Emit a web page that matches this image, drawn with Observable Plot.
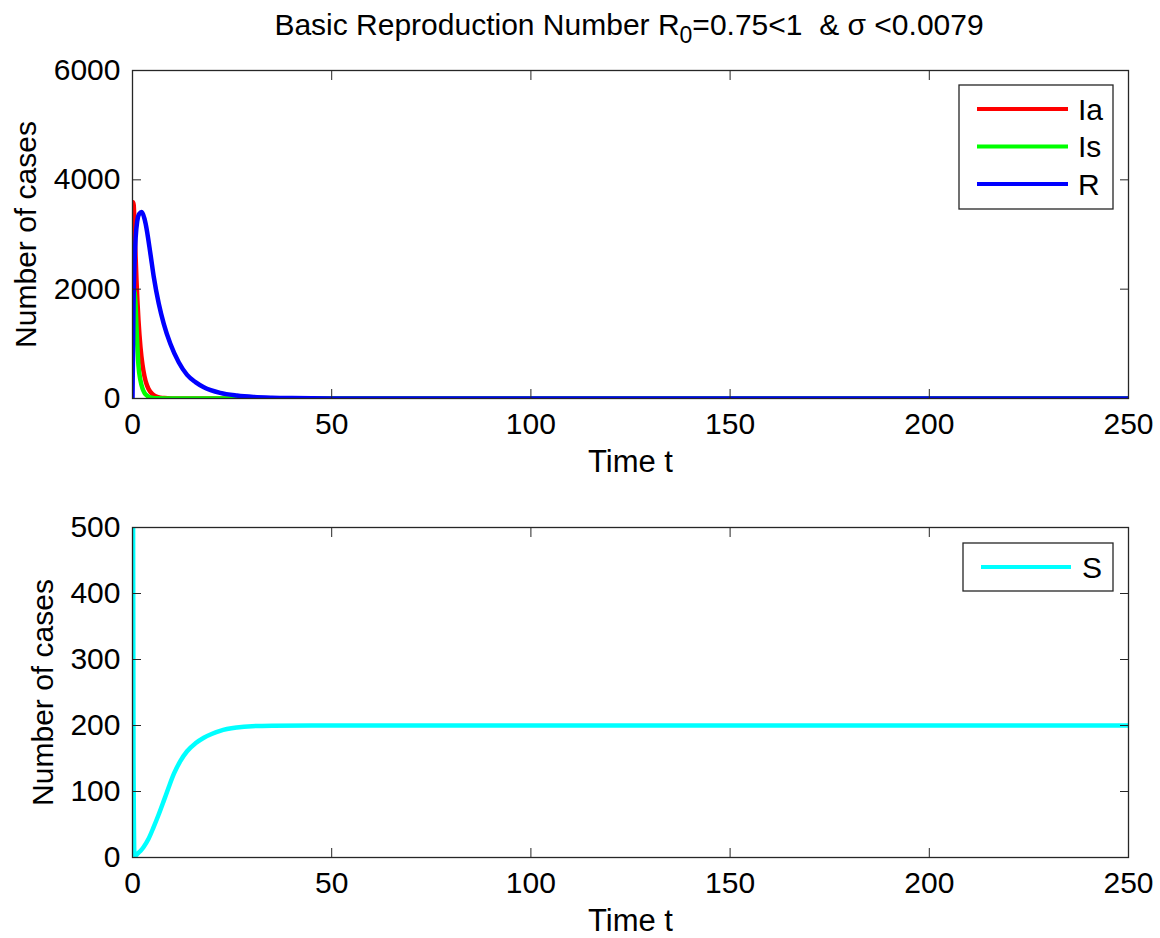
<!DOCTYPE html>
<html><head><meta charset="utf-8">
<script src="https://cdn.jsdelivr.net/npm/d3@7"></script>
<script src="https://cdn.jsdelivr.net/npm/@observablehq/plot@0.6"></script>
<style>
body{margin:0;background:#fff;font-family:"Liberation Sans",Arial,sans-serif;}
#title{height:50px;line-height:50px;width:1160px;box-sizing:border-box;padding-left:98px;text-align:center;font-size:30px;color:#000;white-space:pre;}
#title sub{font-size:23px;vertical-align:-8px;line-height:0;}
#c1,#c2{width:1160px;}
svg{display:block;}
</style></head><body>
<div id="title">Basic Reproduction Number R<sub>0</sub>=0.75&lt;1  &amp; σ &lt;0.0079</div>
<div id="c1"></div><div id="c2"></div>
<script>
// ---- data ----
const xTicks = [0, 50, 100, 150, 200, 250];
const yTicksTop = [0, 2000, 4000, 6000];
const yTicksBottom = [0, 100, 200, 300, 400, 500];

const topSeries = ["Ia", "Is", "R"];
const topColors = ["#ff0000", "#00ff00", "#0000ff"];
const bottomSeries = ["S"];
const bottomColors = ["#00ffff"];

const tIa = [0, 0.15, 0.3, 0.6, 1, 1.5, 2, 2.5, 3, 3.5, 4, 5, 6, 7, 8, 10, 12, 15, 20, 30, 50, 100, 150, 200, 250];
const Ia  = [2600, 3590, 3540, 2950, 2160, 1430, 940, 620, 410, 270, 180, 80, 35, 15, 7, 2, 1, 0, 0, 0, 0, 0, 0, 0, 0];

const tIs = [0, 0.2, 0.5, 0.75, 1, 1.5, 2, 2.5, 3, 3.5, 4, 5, 6, 8, 10, 15, 20, 30, 50, 100, 150, 200, 250];
const Is  = [1400, 2000, 1950, 1740, 1300, 600, 330, 185, 105, 60, 35, 12, 4, 1, 0.5, 0.2, 0, 0, 0, 0, 0, 0, 0];

const tR = [0, 0.1, 0.25, 0.5, 0.8, 1.2, 1.7, 2.3, 3, 3.3, 4.5, 5.35, 6.6, 7.85, 9.5, 11.6, 13.7, 15.8, 17.9, 22, 26.2, 30.4, 35, 40, 50, 70, 100, 150, 200, 250];
const R  = [0, 700, 1700, 2450, 2950, 3250, 3380, 3410, 3290, 3195, 2647, 2219, 1732, 1366, 1000, 664, 433, 300, 207, 104, 55, 28, 14, 7, 2, 0, 0, 0, 0, 0];

const tS = [0, 0.25, 0.5, 0.75, 1, 1.5, 2, 2.8, 4, 5.3, 6.5, 7.8, 9, 10.4, 12, 13.7, 15.8, 17.9, 20, 22, 26.2, 30, 35, 45, 100, 150, 200, 250];
const S  = [1000, 150, 5, 3, 4, 7, 10, 16, 28, 46, 64, 85, 105, 127, 146, 161, 173, 181.5, 187.5, 192, 197, 199, 199.7, 200, 200, 200, 200, 200];

// ---- tables ----
const rows = (name, ts, vs) => ts.map((t, i) => ({series: name, t, v: vs[i]}));
const topData = [...rows("Ia", tIa, Ia), ...rows("Is", tIs, Is), ...rows("R", tR, R)];
const bottomData = rows("S", tS, S);

const FONT = '"Liberation Sans", Arial, sans-serif';
const FS = 30;
const AX = "#262626";

function chart({data, series, colors, yDomain, yTicks, height, marginTop, marginBottom, ylabelX}) {
  const mL = 132, mR = 32;
  return Plot.plot({
    width: 1160, height, marginTop, marginBottom, marginLeft: mL, marginRight: mR,
    style: {fontFamily: FONT, fontSize: FS + "px", color: "#000", background: "#fff", overflow: "visible"},
    x: {domain: [0, 250]},
    y: {domain: yDomain},
    color: {domain: series, range: colors},
    marks: [
      Plot.line(data, {x: "t", y: "v", z: "series", stroke: "series", strokeWidth: 4.5, curve: "monotone-x", clip: true}),
      Plot.frame({stroke: AX, strokeWidth: 1.3}),
      Plot.axisX({anchor: "bottom", ticks: xTicks, tickSize: 9, dy: -9, fill: "none", stroke: AX, label: null}),
      Plot.axisX({anchor: "top", ticks: xTicks, tickSize: 9, dy: 9, fill: "none", stroke: AX, label: null}),
      Plot.axisY({anchor: "left", ticks: yTicks, tickSize: 9, dx: 9, fill: "none", stroke: AX, label: null}),
      Plot.axisY({anchor: "right", ticks: yTicks, tickSize: 9, dx: -9, fill: "none", stroke: AX, label: null}),
      Plot.axisX({anchor: "bottom", ticks: xTicks, tickSize: 0, tickPadding: 14, tickFormat: "d", fill: "#000", label: null}),
      Plot.axisY({anchor: "left", ticks: yTicks, tickSize: 0, tickPadding: 12, tickFormat: "d", fill: "#000", label: null}),
      Plot.text(["Time t"], {text: d => d, frameAnchor: "bottom", lineAnchor: "middle", textAnchor: "middle", dy: 64, fontSize: FS + 1, fill: "#000"}),
      Plot.text(["Number of cases"], {text: d => d, frameAnchor: "left", lineAnchor: "middle", textAnchor: "middle", rotate: -90, dx: ylabelX - mL, fontSize: FS, fill: "#000"})
    ]
  });
}

function addLegend(svg, box, names, colors) {
  const g = d3.select(svg).append("g").attr("font-family", FONT).attr("font-size", FS).attr("text-anchor", "start");
  g.append("rect").attr("x", box.x).attr("y", box.y).attr("width", box.w).attr("height", box.h)
    .attr("fill", "#fff").attr("stroke", AX).attr("stroke-width", 1.3);
  names.forEach((n, i) => {
    const y = box.y0 + i * box.step;
    g.append("line").attr("x1", box.lx1).attr("x2", box.lx2).attr("y1", y).attr("y2", y)
      .attr("stroke", colors[i]).attr("stroke-width", 4);
    g.append("text").attr("x", box.tx).attr("y", y).attr("dy", "0.36em").attr("text-anchor", "start").attr("fill", "#000").text(n);
  });
}

const svg1 = chart({data: topData, series: topSeries, colors: topColors, yDomain: [0, 6000], yTicks: yTicksTop,
  height: 430, marginTop: 20, marginBottom: 82, ylabelX: 25.5});
document.getElementById("c1").appendChild(svg1);
addLegend(svg1, {x: 959, y: 35, w: 154, h: 124, y0: 59, step: 37.5, lx1: 977, lx2: 1068, tx: 1078}, topSeries, topColors);

const svg2 = chart({data: bottomData, series: bottomSeries, colors: bottomColors, yDomain: [0, 500], yTicks: yTicksBottom,
  height: 458, marginTop: 47, marginBottom: 81, ylabelX: 42.5});
document.getElementById("c2").appendChild(svg2);
addLegend(svg2, {x: 963, y: 63, w: 150, h: 48, y0: 87, step: 0, lx1: 981, lx2: 1071, tx: 1082}, bottomSeries, bottomColors);
</script></body></html>
